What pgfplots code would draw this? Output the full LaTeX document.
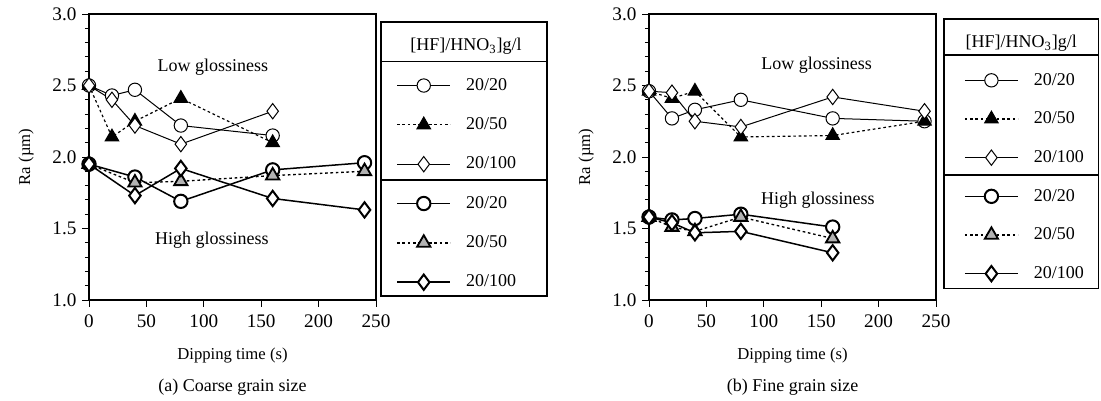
\documentclass[border=0pt]{standalone}
\usepackage{fontspec}
\setmainfont{Liberation Serif}
\usepackage{pgfplots}
\pgfplotsset{compat=1.18}

\definecolor{tri}{gray}{0.7}
\tikzset{txt/.style={font=\fontsize{10.8}{12}\selectfont}}

\pgfplotsset{
  myax/.style={
    scale only axis, width=172.2pt, height=171.6pt,
    xmin=0, xmax=250, ymin=1, ymax=3,
    xtick={0,50,100,150,200,250}, ytick={1,1.5,2,2.5,3},
    minor y tick num=4,
    tick pos=left, tick align=outside,
    major tick length=4pt, minor tick length=2.5pt,
    tick style={black, line width=0.6pt},
    axis line style={line width=0.7pt},
    clip=false,
    /pgf/number format/assume math mode=true,
    yticklabel={\pgfmathprintnumber[fixed,fixed zerofill,precision=1]{\tick}},
    ticklabel style={font=\fontsize{11.5}{13}\selectfont},
    xticklabel style={yshift=-1.2pt},
    label style={font=\fontsize{10.8}{12}\selectfont},
    every axis x label/.style={at={(axis description cs:0.5,0)}, anchor=center, yshift=-33.6pt},
    every axis y label/.style={at={([xshift=-37.8pt]axis description cs:0,0.5)}, rotate=90, anchor=center},
    xlabel={Dipping time (s)},
    ylabel={Ra (µm)},
    legend style={draw=none, fill=none, font=\fontsize{10.8}{12}\selectfont,
      row sep=0pt, column sep=9pt},
    legend cell align=left,
    legend image code/.code={\draw[mark repeat=2,mark phase=2,#1] plot coordinates {(0pt,0pt) (16pt,0pt) (32pt,0pt)};},
  },
  lo circ/.style={black, line width=0.6pt, mark=*, mark size=4pt, mark options={solid, fill=white, line width=0.6pt}},
  lo tri/.style={black, line width=0.7pt, dash pattern=on 1.6pt off 1.6pt, mark=triangle*, mark size=4.6pt, mark options={solid, fill=black}},
  lo dia/.style={black, line width=0.6pt, mark=diamond*, mark size=4.6pt, mark options={solid, fill=white, line width=0.6pt}},
  hi circ/.style={black, line width=0.9pt, mark=*, mark size=4pt, mark options={solid, fill=white, line width=1.2pt}},
  hi tri/.style={black, line width=0.8pt, dash pattern=on 1.6pt off 1.6pt, mark=triangle*, mark size=4.6pt, mark options={solid, fill=tri, line width=1.1pt}},
  hi dia/.style={black, line width=0.9pt, mark=diamond*, mark size=4.6pt, mark options={solid, fill=white, line width=1.2pt}},
}

\begin{document}
\begin{tikzpicture}
\path[use as bounding box] (0,0) rectangle (660.6pt,240.6pt);

% ---------- (a) Coarse grain size ----------
\begin{axis}[myax, at={(53.4pt,60.6pt)}, anchor=south west,
  legend style={at={(axis description cs:1.0523,0.8315)}, anchor=north west,
    nodes={inner sep=0pt, minimum height=23.6pt}}]
\addplot[lo circ] coordinates {(0,2.50) (20,2.43) (40,2.47) (80,2.22) (160,2.15)};
\addlegendentry{20/20}
\addplot[lo tri] coordinates {(0,2.50) (20,2.14) (40,2.25) (80,2.41) (160,2.10)};
\addlegendentry{20/50}
\addplot[lo dia] coordinates {(0,2.50) (20,2.40) (40,2.22) (80,2.09) (160,2.32)};
\addlegendentry{20/100}
\addplot[hi circ] coordinates {(0,1.95) (40,1.86) (80,1.69) (160,1.91) (240,1.96)};
\addlegendentry{20/20}
\addplot[hi tri] coordinates {(0,1.95) (40,1.82) (80,1.83) (160,1.87) (240,1.90)};
\addlegendentry{20/50}
\addplot[hi dia] coordinates {(0,1.95) (40,1.73) (80,1.92) (160,1.71) (240,1.63)};
\addlegendentry{20/100}
\node[txt] at (axis cs:108,2.63) {Low glossiness};
\node[txt] at (axis cs:107,1.42) {High glossiness};
\draw[line width=0.7pt] (axis description cs:1.0174,0.014) rectangle (axis description cs:1.5958,0.972);
\draw[line width=0.7pt] (axis description cs:1.0174,0.8332) -- (axis description cs:1.5958,0.8332);
\draw[line width=0.7pt] (axis description cs:1.0174,0.4196) -- (axis description cs:1.5958,0.4196);
\node[txt] at (axis description cs:1.3136,0.886) {[HF]/HNO\textsubscript{3}]g/l};
\node[txt] at ([yshift=-52.2pt]axis description cs:0.5,0) {(a) Coarse grain size};
\end{axis}

% ---------- (b) Fine grain size ----------
\begin{axis}[myax, at={(389.4pt,60.6pt)}, anchor=south west,
  legend style={at={(axis description cs:1.079,0.8485)}, anchor=north west,
    nodes={inner sep=0pt, minimum height=23.2pt}}]
\addplot[lo circ] coordinates {(0,2.46) (20,2.27) (40,2.33) (80,2.40) (160,2.27) (240,2.25)};
\addlegendentry{20/20}
\addplot[lo tri] coordinates {(0,2.46) (20,2.41) (40,2.46) (80,2.14) (160,2.15) (240,2.25)};
\addlegendentry{20/50}
\addplot[lo dia] coordinates {(0,2.46) (20,2.45) (40,2.25) (80,2.21) (160,2.42) (240,2.32)};
\addlegendentry{20/100}
\addplot[hi circ] coordinates {(0,1.58) (20,1.56) (40,1.57) (80,1.60) (160,1.51)};
\addlegendentry{20/20}
\addplot[hi tri] coordinates {(0,1.58) (20,1.51) (40,1.48) (80,1.58) (160,1.43)};
\addlegendentry{20/50}
\addplot[hi dia] coordinates {(0,1.58) (20,1.54) (40,1.47) (80,1.48) (160,1.33)};
\addlegendentry{20/100}
\node[txt] at (axis cs:146,2.64) {Low glossiness};
\node[txt] at (axis cs:147,1.70) {High glossiness};
\draw[line width=0.7pt] (axis description cs:1.0278,0.041) rectangle (axis description cs:1.566,0.9825);
\draw[line width=0.7pt] (axis description cs:1.0278,0.8566) -- (axis description cs:1.566,0.8566);
\draw[line width=0.7pt] (axis description cs:1.0278,0.437) -- (axis description cs:1.566,0.437);
\node[txt] at (axis description cs:1.297,0.8976) {[HF]/HNO\textsubscript{3}]g/l};
\node[txt] at ([yshift=-52.2pt]axis description cs:0.5,0) {(b) Fine grain size};
\end{axis}
\end{tikzpicture}
\end{document}
